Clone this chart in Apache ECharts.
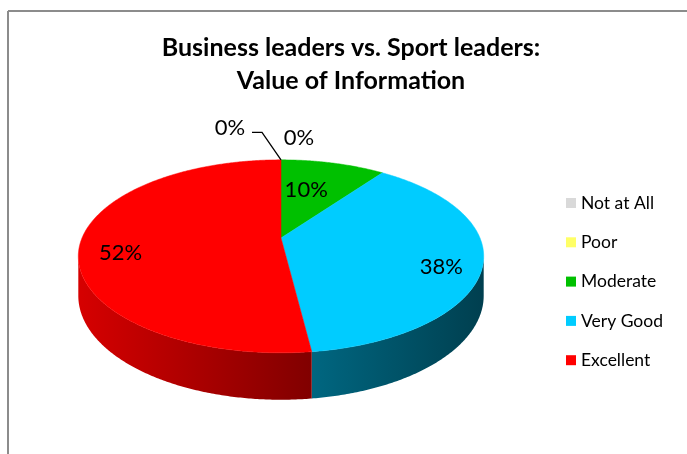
<!DOCTYPE html>
<html>
<head>
<meta charset="utf-8">
<script src="https://cdn.jsdelivr.net/npm/echarts@6/dist/echarts.min.js"></script>
<style>
html,body{margin:0;padding:0;background:#fff;}
#chart{width:687px;height:454px;}
</style>
</head>
<body>
<div id="chart"></div>
<script>
// ---- data ----
const categories = ['Not at All', 'Poor', 'Moderate', 'Very Good', 'Excellent'];
const values = [0, 0, 10, 38, 52];
const titleText = 'Business leaders vs. Sport leaders:\nValue of Information';

// ---- styles ----
const colors = ['#d9d9d9', '#ffff66', '#00c000', '#00ccff', '#ff0000'];
const FONT = 'Lato';

// ---- 3D pie projection (layout constants) ----
const CX = 281, CY = 238, A = 199, B = 93, P = 0.19, T = 38;
function proj(theta, r, h) {
  const d = 1 + P * r * Math.cos(theta);
  return [CX + A * r * Math.sin(theta) / d, CY - B * r * Math.cos(theta) / d + (h || 0) / d];
}
const SIL = Math.acos(-P);             // visible side range [SIL, 2PI - SIL]
const XL = CX - A / Math.sqrt(1 - P * P), XR = CX + A / Math.sqrt(1 - P * P);

function shade(hex, f) {
  const n = parseInt(hex.slice(1), 16);
  const r = Math.round(((n >> 16) & 255) * f), g = Math.round(((n >> 8) & 255) * f), b = Math.round((n & 255) * f);
  return 'rgb(' + r + ',' + g + ',' + b + ')';
}

const total = values.reduce((s, v) => s + v, 0);
const sliceData = [];
let acc = 0;
values.forEach((v, i) => {
  sliceData.push({ value: [acc / total, (acc + v) / total, i], name: categories[i] });
  acc += v;
});

// label placement rules (code-side layout)
function labelPos(i, a, b) {
  const anchor = proj(a, 1);
  if (values[i] === 0) {
    if (i === 0) return { x: anchor[0] - 51, y: anchor[1] - 32, leader: true, anchor };
    return { x: anchor[0] + 18, y: anchor[1] - 22 };
  }
  const mid = (a + b) / 2;
  const frac = values[i] / total;
  if (frac < 0.2) {
    const p = proj(mid, 0.5);
    return { x: p[0] - 3, y: p[1] - 8 };
  }
  const p = proj(mid, 0.8);
  return { x: p[0], y: p[1] + 10 };
}

function renderItem(params, api) {
  const i = api.value(2);
  const a = api.value(0) * 2 * Math.PI, b = api.value(1) * 2 * Math.PI;
  const children = [];
  const base = colors[i];
  const step = Math.PI / 360;
  if (b > a) {
    // side wall
    const sa = Math.max(a, SIL), sb = Math.min(b, 2 * Math.PI - SIL);
    if (sb > sa) {
      const pts = [];
      for (let t = sa; t < sb; t += step) pts.push(proj(t, 1));
      pts.push(proj(sb, 1));
      for (let t = sb; t > sa; t -= step) pts.push(proj(t, 1, T));
      pts.push(proj(sa, 1, T));
      children.push({
        type: 'polygon', z2: 1,
        shape: { points: pts },
        style: {
          fill: {
            type: 'linear', x: XL, y: 0, x2: XR, y2: 0, global: true,
            colorStops: [
              { offset: 0, color: shade(base, 0.84) },
              { offset: 0.58, color: shade(base, 0.5) },
              { offset: 1, color: shade(base, 0.31) }
            ]
          }
        }
      });
    }
    // top face
    const top = [[CX, CY]];
    for (let t = a; t < b; t += step) top.push(proj(t, 1));
    top.push(proj(b, 1));
    children.push({
      type: 'polygon', z2: 2,
      shape: { points: top },
      style: { fill: base, stroke: base, lineWidth: 0.5 }
    });
  }
  // label
  const lp = labelPos(i, a, b);
  if (lp.leader) {
    children.push({
      type: 'polyline', z2: 9,
      shape: { points: [[lp.x + 22, lp.y + 4.5], [lp.x + 32, lp.y + 4.5], lp.anchor] },
      style: { stroke: '#000', lineWidth: 1.3, fill: null }
    });
  }
  children.push({
    type: 'text', z2: 10, x: lp.x, y: lp.y,
    style: {
      text: values[i] + '%', fill: '#000', fontSize: 22, fontFamily: FONT,
      align: 'center', verticalAlign: 'middle', textAlign: 'center', textVerticalAlign: 'middle'
    }
  });
  return { type: 'group', children };
}

const chart = echarts.init(document.getElementById('chart'), null, { renderer: 'canvas' });
chart.setOption({
  animation: false,
  color: colors,
  title: {
    text: titleText,
    left: 346, top: 26, textAlign: 'center',
    textStyle: { fontFamily: FONT, fontWeight: 'bold', fontSize: 25, color: '#000', lineHeight: 33 }
  },
  legend: {
    orient: 'vertical', left: 566, top: 193, padding: 0,
    itemWidth: 10, itemHeight: 10, itemGap: 19.3,
    icon: 'rect',
    data: categories,
    selectedMode: false,
    textStyle: { fontFamily: FONT, fontSize: 17.5, color: '#000', lineHeight: 20 }
  },
  graphic: [
    { type: 'line', shape: { x1: 8, y1: 11, x2: 687, y2: 11 }, style: { stroke: '#8c8c8c', lineWidth: 2 } },
    { type: 'line', shape: { x1: 8, y1: 11, x2: 8, y2: 454 }, style: { stroke: '#8c8c8c', lineWidth: 2 } }
  ],
  series: [
    {
      type: 'custom', coordinateSystem: 'none',
      renderItem: renderItem,
      data: sliceData,
      silent: true
    },
    {
      type: 'pie', radius: [0, 0], center: [-100, -100], silent: true,
      label: { show: false }, labelLine: { show: false },
      data: categories.map((c, i) => ({ name: c, value: values[i], itemStyle: { color: colors[i] } }))
    }
  ]
});
</script>
</body>
</html>
